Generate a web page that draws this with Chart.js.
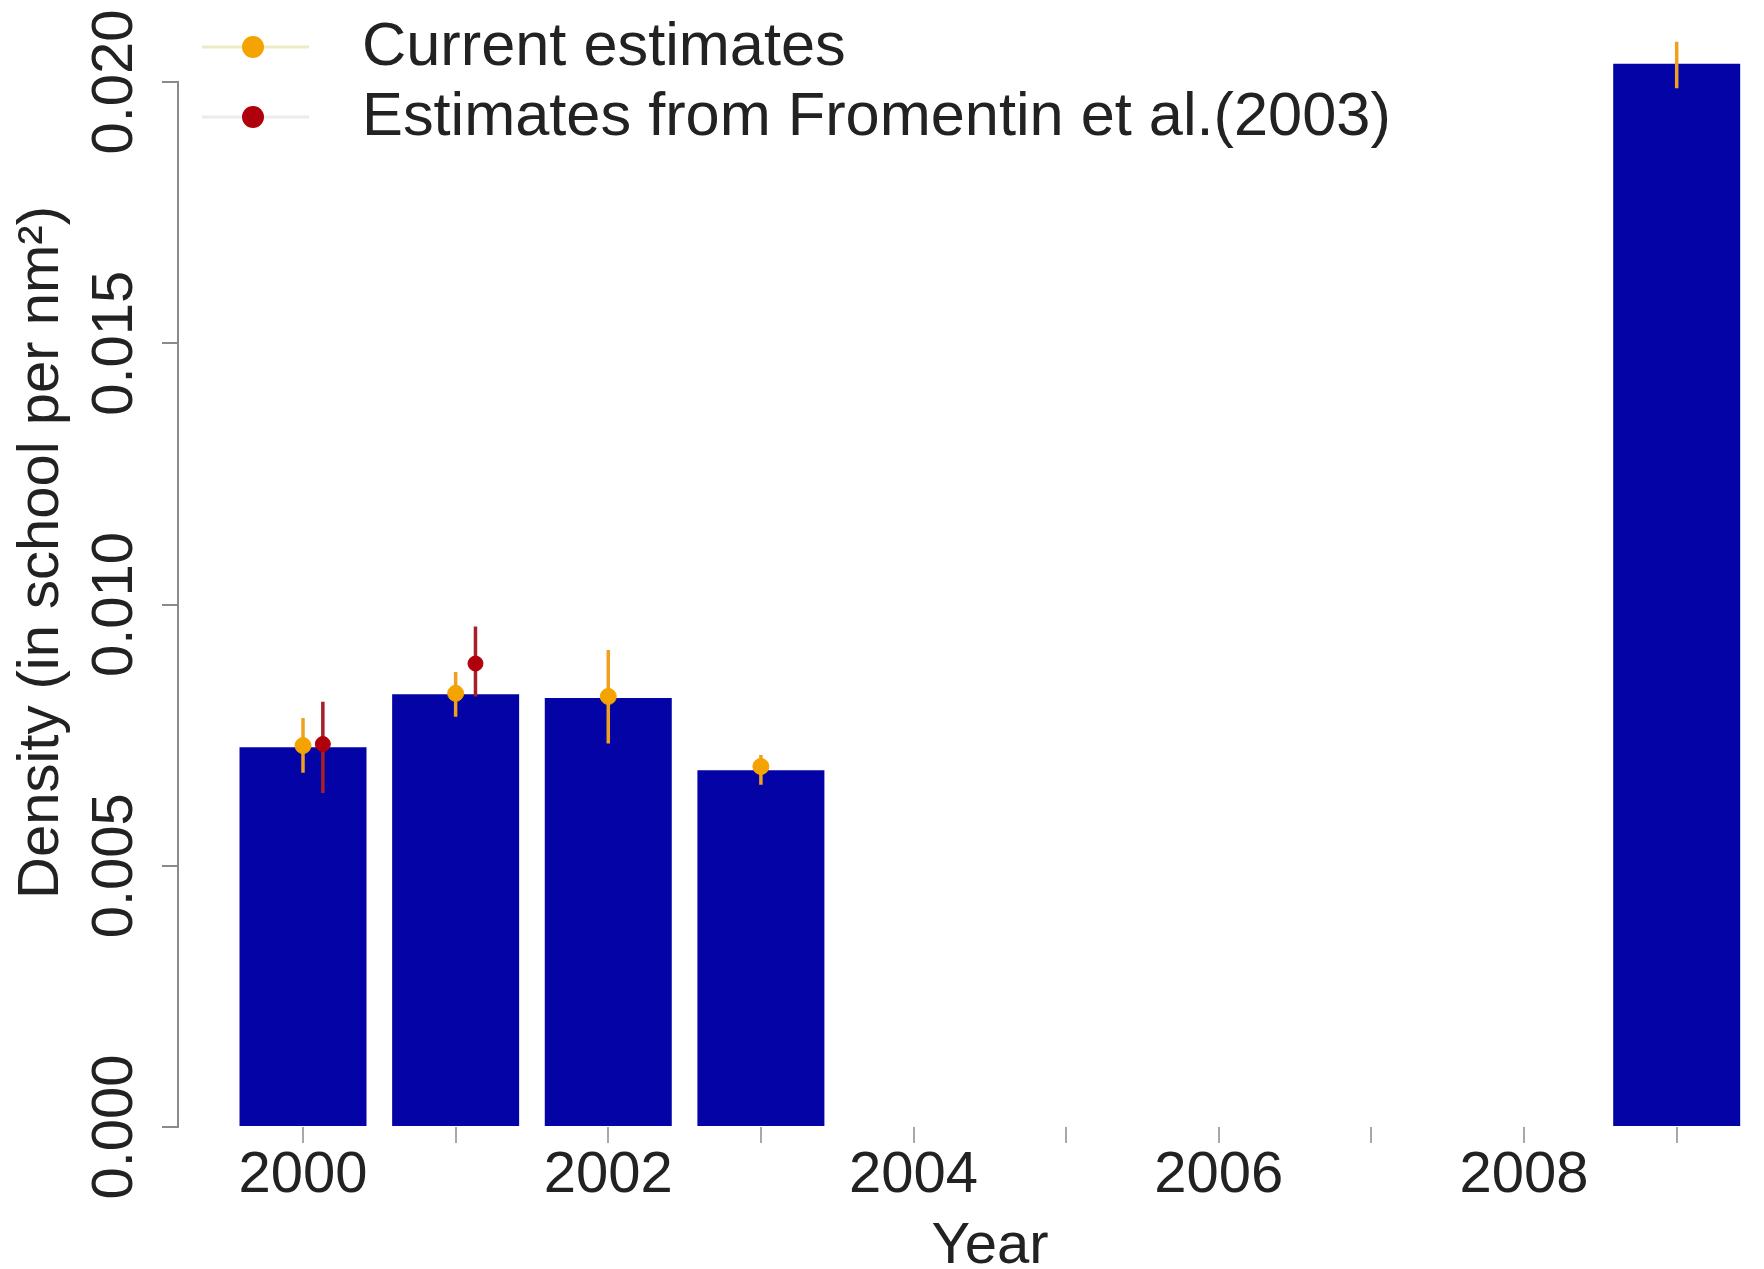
<!DOCTYPE html>
<html><head><meta charset="utf-8">
<script src="https://cdn.jsdelivr.net/npm/chart.js@4.4.1/dist/chart.umd.min.js"></script>
<style>html,body{margin:0;padding:0;background:#fff;}#wrap{width:1764px;height:1269px;}</style>
</head><body><div id="wrap"><canvas id="c" width="1764" height="1269"></canvas></div>
<script>
// ---- data ----
const barYears = [2000, 2001, 2002, 2003, 2009];
const barValues = [0.00727, 0.00828, 0.00821, 0.00683, 0.02035];
const currentYears = [2000, 2001, 2002, 2003, 2009];
const currentValues = [0.00730, 0.00830, 0.00824, 0.00690, 0.02036];
const currentLower = [0.00678, 0.00785, 0.00734, 0.00655, 0.01988];
const currentUpper = [0.00783, 0.00871, 0.00913, 0.00712, 0.02077];
const fromentinYears = [2000, 2001];
const fromentinValues = [0.00733, 0.00887];
const fromentinLower = [0.00639, 0.00824];
const fromentinUpper = [0.00814, 0.00958];
const xTickYears = [2000, 2001, 2002, 2003, 2004, 2005, 2006, 2007, 2008, 2009];
const yTickValues = [0, 0.005, 0.010, 0.015, 0.020];
const legendLabels = ['Current estimates', 'Estimates from Fromentin et al.(2003)'];
const xTitle = 'Year';
const yTitle = 'Density (in school per nm\u00B2)';

// ---- style ----
const FONT = '"Liberation Sans", Arial, Helvetica, sans-serif';
const TEXT = '#222222';
const BAR = '#0303A6';
const ORANGE = '#F5A300';
const ORANGE_ERR = '#F0A020';
const RED = '#B0000C';
const RED_ERR = '#A52028';
const FROM_DX = 0.13;

function points(xs, ys, dx) { return xs.map((x, i) => ({x: x + dx, y: ys[i]})); }
function segments(xs, lo, hi, dx) {
  const out = [];
  xs.forEach((x, i) => { out.push({x: x + dx, y: lo[i]}, {x: x + dx, y: hi[i]}, {x: x + dx, y: null}); });
  return out;
}

const overlay = {
  id: 'overlay',
  afterDraw(chart) {
    const ctx = chart.ctx, ys = chart.scales.y, area = chart.chartArea;
    ctx.save();
    ctx.fillStyle = TEXT;
    ctx.textAlign = 'center';
    ctx.textBaseline = 'middle';
    ctx.font = '58px ' + FONT;
    yTickValues.forEach(v => {
      ctx.save();
      ctx.translate(116, ys.getPixelForValue(v));
      ctx.rotate(-Math.PI / 2);
      ctx.fillText(v.toFixed(3), 0, 0);
      ctx.restore();
    });
    ctx.save();
    ctx.translate(42, (area.top + area.bottom) / 2 - 52);
    ctx.rotate(-Math.PI / 2);
    ctx.fillText(yTitle, 0, 0);
    ctx.restore();
    // x axis title (centred on the original plot region, which extends past the right edge)
    ctx.fillText(xTitle, 990, chart.height - 22);
    // legend
    const items = [
      {y: 47, line: '#ECEBC4', fill: ORANGE, r: 11},
      {y: 117, line: '#EBEBEB', fill: RED, r: 11}
    ];
    ctx.textAlign = 'left';
    ctx.font = '61.3px ' + FONT;
    items.forEach((it, i) => {
      ctx.strokeStyle = it.line; ctx.lineWidth = 3;
      ctx.beginPath(); ctx.moveTo(202, it.y); ctx.lineTo(309, it.y); ctx.stroke();
      ctx.fillStyle = it.fill;
      ctx.beginPath(); ctx.arc(253, it.y, it.r, 0, Math.PI * 2); ctx.fill();
      ctx.fillStyle = TEXT;
      ctx.fillText(legendLabels[i], 362, it.y + 1);
    });
    ctx.restore();
  }
};

new Chart(document.getElementById('c'), {
  type: 'bar',
  data: {
    datasets: [
      {type: 'scatter', data: points(fromentinYears, fromentinValues, FROM_DX), backgroundColor: RED, borderColor: RED,
       pointRadius: 7.5, order: 1, clip: false},
      {type: 'scatter', data: points(currentYears, currentValues, 0), backgroundColor: ORANGE, borderColor: ORANGE,
       pointRadius: 8, order: 2, clip: false},
      {type: 'line', data: segments(fromentinYears, fromentinLower, fromentinUpper, FROM_DX), borderColor: RED_ERR,
       borderWidth: 3.5, pointRadius: 0, spanGaps: false, order: 3, clip: false},
      {type: 'line', data: segments(currentYears, currentLower, currentUpper, 0), borderColor: ORANGE_ERR,
       borderWidth: 3.5, pointRadius: 0, spanGaps: false, order: 4, clip: false},
      {type: 'bar', data: points(barYears, barValues, 0), backgroundColor: BAR, borderWidth: 0,
       categoryPercentage: 1, barPercentage: 0.832, order: 5, clip: false}
    ]
  },
  options: {
    responsive: false,
    animation: false,
    devicePixelRatio: 1,
    layout: {autoPadding: false, padding: {top: 82, left: 0, right: 0, bottom: 0}},
    plugins: {legend: {display: false}, tooltip: {enabled: false}},
    scales: {
      x: {
        type: 'linear', min: 1999.181, max: 2009.572, offset: false,
        afterBuildTicks: s => { s.ticks = xTickYears.map(v => ({value: v})); },
        afterFit: s => { s.height = 142; s.paddingLeft = 0; s.paddingRight = 0; },
        border: {display: false},
        grid: {offset: false, drawOnChartArea: false, drawTicks: true, tickLength: 16, color: '#a8a8a8', lineWidth: 2},
        ticks: {autoSkip: false, maxRotation: 0, minRotation: 0, padding: 4, color: TEXT,
                font: {family: FONT, size: 58, lineHeight: 1},
                callback: v => (v % 2 === 0 ? String(v) : '')},
        title: {display: false}
      },
      y: {
        type: 'linear', min: 0, max: 0.02,
        afterBuildTicks: s => { s.ticks = yTickValues.map(v => ({value: v})); },
        afterFit: s => { s.width = 178; },
        border: {display: true, color: '#8a8a8a', width: 2},
        grid: {drawOnChartArea: false, drawTicks: true, tickLength: 16, color: '#8a8a8a', lineWidth: 2},
        ticks: {display: false},
        title: {display: false}
      }
    }
  },
  plugins: [overlay]
});
</script>
</body></html>
